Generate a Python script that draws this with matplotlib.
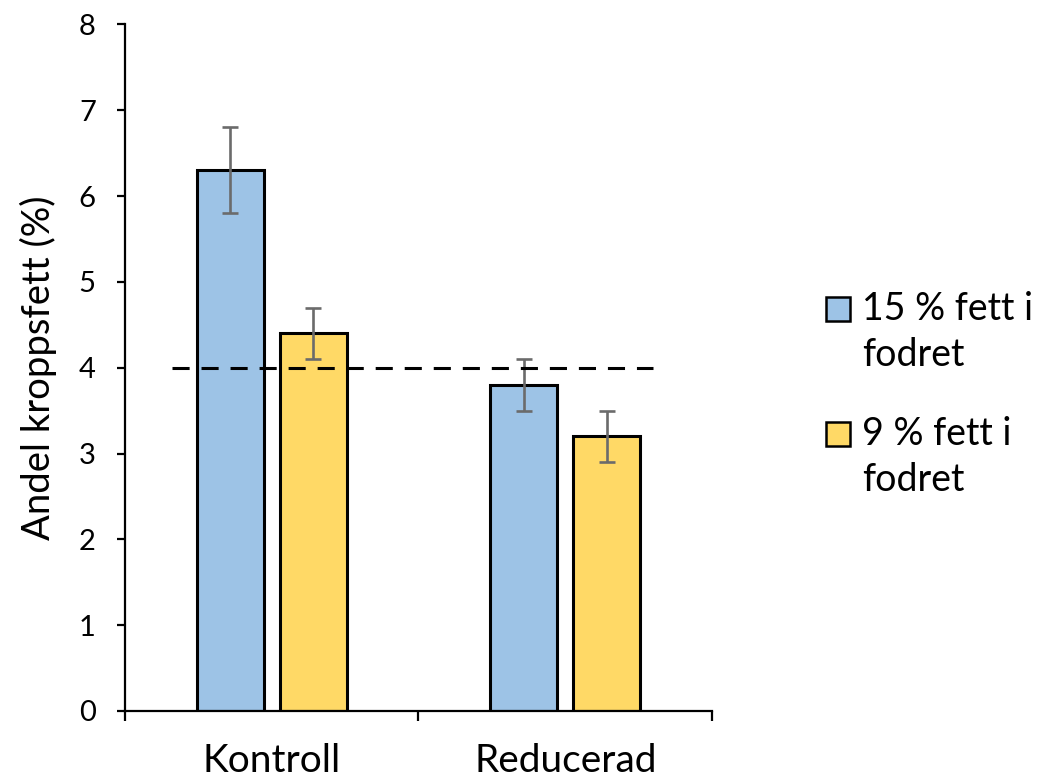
import matplotlib
matplotlib.use("Agg")
import matplotlib.pyplot as plt
from matplotlib.patches import Rectangle
import numpy as np

# Data
categories = ["Kontroll", "Reducerad"]
series_labels = ["15 % fett i\nfodret", "9 % fett i\nfodret"]
fat15 = [6.3, 3.8]
fat9 = [4.4, 3.2]
err15 = [0.5, 0.3]
err9 = [0.3, 0.3]
reference_level = 4.0
y_ticks = [0, 1, 2, 3, 4, 5, 6, 7, 8]

colors = ["#9DC3E6", "#FFD966"]
err_color = "#6B6B6B"

plt.rcParams["font.family"] = ["Lato", "DejaVu Sans"]

W, H = 1041, 782
fig = plt.figure(figsize=(W / 100, H / 100), dpi=100)
ax = fig.add_axes([0.120, 0.0908, 0.564, 0.878])

x = np.arange(len(categories))
width = 0.228
offset = 0.141

for i, (vals, errs) in enumerate([(fat15, err15), (fat9, err9)]):
    pos = x + (-offset if i == 0 else offset)
    ax.bar(pos, vals, width, color=colors[i], edgecolor="black",
           linewidth=2.2, zorder=2)
    ax.errorbar(pos, vals, yerr=errs, fmt="none", ecolor=err_color,
                elinewidth=1.9, capsize=6.1, capthick=1.9, zorder=3)

# Reference line
line, = ax.plot([-0.34, 1.30], [reference_level, reference_level],
                color="black", linewidth=2.2, zorder=4)
line.set_dashes((5.6, 3.9))

ax.set_xlim(-0.5, 1.5)
ax.set_ylim(0, 8)
ax.set_yticks(y_ticks)
ax.tick_params(axis="y", labelsize=21, direction="out", length=6, width=1.6, pad=15)

ax.set_xticks(x)
ax.set_xticklabels(categories, fontsize=28)
ax.tick_params(axis="x", which="major", length=0, pad=23)
ax.set_xticks([-0.5, 0.5, 1.5], minor=True)
ax.tick_params(axis="x", which="minor", direction="out", length=7, width=1.6)

for s in ["top", "right"]:
    ax.spines[s].set_visible(False)
for s in ["left", "bottom"]:
    ax.spines[s].set_linewidth(1.6)

ax.set_ylabel("Andel kroppsfett (%)", fontsize=27.5, labelpad=16)

# Legend: square swatch beside the first line of each wrapped label
legend_rows = [(297, 320), (422, 445)]  # (swatch top, first baseline) in px
line_step = 46
for (top, base), lab, col in zip(legend_rows, series_labels, colors):
    fig.patches.append(Rectangle((826 / W, 1 - (top + 24) / H), 24 / W, 24 / H,
                                 transform=fig.transFigure, facecolor=col,
                                 edgecolor="black", linewidth=1.8))
    for k, part in enumerate(lab.split("\n")):
        fig.text(862 / W, 1 - (base + k * line_step) / H, part, fontsize=27,
                 ha="left", va="baseline")

fig.savefig("out.png", dpi=100)
